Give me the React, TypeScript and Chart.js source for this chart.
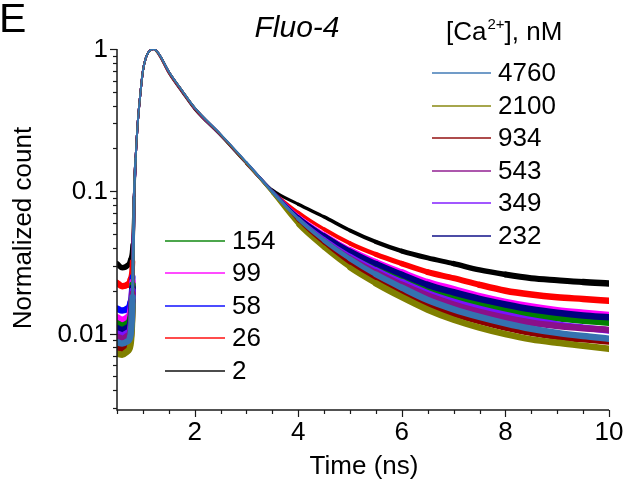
import React, { useEffect, useRef } from "react";
import { Chart, registerables } from "chart.js";
Chart.register(...registerables);

// Time axis (ns)
const times = [0.5, 0.6, 0.7, 0.76, 0.8, 0.83, 0.86, 0.9, 0.95, 1.0, 1.05, 1.1, 1.15, 1.2, 1.3, 1.5, 1.75, 2.0, 2.5, 3.0, 3.5, 4.0, 4.5, 5.0, 5.5, 6.0, 6.5, 7.0, 7.5, 8.0, 8.5, 9.0, 9.5, 10.0];

// Normalized counts per [Ca2+] (nM)
const ca4760 = [0.0087, 0.0085, 0.0088, 0.0097, 0.018, 0.09, 0.17, 0.3, 0.48, 0.7, 0.85, 0.94, 0.985, 1.0, 0.935, 0.695, 0.515, 0.387, 0.252, 0.16, 0.099, 0.064, 0.045, 0.0335, 0.026, 0.021, 0.0172, 0.0148, 0.0131, 0.0118, 0.0108, 0.0101, 0.0096, 0.0092];
const ca2100 = [0.0072, 0.0071, 0.0075, 0.0083, 0.016, 0.09, 0.17, 0.3, 0.48, 0.7, 0.85, 0.94, 0.985, 1.0, 0.933, 0.693, 0.513, 0.385, 0.25, 0.158, 0.097, 0.058, 0.04, 0.029, 0.0225, 0.018, 0.0147, 0.0125, 0.011, 0.0099, 0.0091, 0.0086, 0.0082, 0.0078];
const ca934 = [0.008, 0.0078, 0.0081, 0.009, 0.017, 0.09, 0.17, 0.3, 0.48, 0.7, 0.85, 0.94, 0.985, 1.0, 0.932, 0.692, 0.512, 0.385, 0.25, 0.158, 0.098, 0.061, 0.043, 0.031, 0.0245, 0.0195, 0.016, 0.0138, 0.0122, 0.011, 0.0101, 0.0095, 0.0091, 0.0088];
const ca543 = [0.0095, 0.0092, 0.0096, 0.0105, 0.019, 0.09, 0.17, 0.3, 0.48, 0.7, 0.85, 0.94, 0.985, 1.0, 0.932, 0.692, 0.512, 0.385, 0.25, 0.158, 0.099, 0.063, 0.045, 0.034, 0.027, 0.022, 0.0185, 0.016, 0.0142, 0.0129, 0.0119, 0.0113, 0.0109, 0.0106];
const ca349 = [0.01, 0.0097, 0.0101, 0.011, 0.02, 0.09, 0.17, 0.3, 0.48, 0.7, 0.85, 0.94, 0.985, 1.0, 0.932, 0.692, 0.512, 0.385, 0.25, 0.158, 0.099, 0.064, 0.046, 0.035, 0.028, 0.023, 0.0192, 0.0167, 0.0149, 0.0135, 0.0124, 0.0116, 0.011, 0.0105];
const ca232 = [0.0109, 0.0106, 0.011, 0.012, 0.021, 0.09, 0.17, 0.3, 0.48, 0.7, 0.85, 0.94, 0.985, 1.0, 0.932, 0.692, 0.512, 0.385, 0.25, 0.158, 0.1, 0.066, 0.049, 0.038, 0.031, 0.026, 0.022, 0.0195, 0.0175, 0.016, 0.0148, 0.014, 0.0134, 0.013];
const ca154 = [0.0118, 0.0114, 0.0118, 0.013, 0.022, 0.09, 0.17, 0.3, 0.48, 0.7, 0.85, 0.94, 0.985, 1.0, 0.932, 0.692, 0.512, 0.385, 0.25, 0.158, 0.1, 0.065, 0.047, 0.036, 0.029, 0.024, 0.0205, 0.018, 0.016, 0.0146, 0.0135, 0.0128, 0.0123, 0.0119];
const ca99 = [0.013, 0.0125, 0.013, 0.0145, 0.023, 0.09, 0.17, 0.3, 0.48, 0.7, 0.85, 0.94, 0.985, 1.0, 0.93, 0.69, 0.51, 0.383, 0.249, 0.158, 0.1, 0.067, 0.05, 0.039, 0.032, 0.027, 0.023, 0.0205, 0.0183, 0.0167, 0.0155, 0.0146, 0.014, 0.0135];
const ca58 = [0.015, 0.0145, 0.015, 0.0165, 0.025, 0.09, 0.17, 0.3, 0.48, 0.7, 0.85, 0.94, 0.985, 1.0, 0.93, 0.69, 0.51, 0.383, 0.249, 0.158, 0.1, 0.066, 0.048, 0.037, 0.03, 0.025, 0.021, 0.0185, 0.0166, 0.0152, 0.0141, 0.0134, 0.0129, 0.0125];
const ca26 = [0.0227, 0.0215, 0.022, 0.024, 0.032, 0.09, 0.17, 0.3, 0.48, 0.7, 0.85, 0.94, 0.985, 1.0, 0.925, 0.68, 0.505, 0.38, 0.248, 0.157, 0.1, 0.071, 0.054, 0.043, 0.036, 0.031, 0.027, 0.0245, 0.022, 0.02, 0.0188, 0.018, 0.0175, 0.017];
const ca2 = [0.031, 0.029, 0.03, 0.033, 0.042, 0.09, 0.17, 0.3, 0.48, 0.7, 0.85, 0.94, 0.985, 1.0, 0.92, 0.675, 0.5, 0.375, 0.245, 0.156, 0.102, 0.081, 0.066, 0.053, 0.044, 0.038, 0.034, 0.031, 0.028, 0.026, 0.0245, 0.0237, 0.023, 0.0225];

const seriesLabels = ["4760", "2100", "934", "543", "349", "232", "154", "99", "58", "26", "2"];
const seriesValues = [ca4760, ca2100, ca934, ca543, ca349, ca232, ca154, ca99, ca58, ca26, ca2];
const seriesColors = ["#3572b0", "#808000", "#8b0000", "#8a108a", "#7a10ff", "#000080", "#008000", "#ff00ff", "#0000ff", "#ff0000", "#000000"];

const xMajorTicks = [2, 4, 6, 8, 10];
const yMajorTicks = [1, 0.1, 0.01];
const yTickLabels = ["1", "0.1", "0.01"];

const FONT = "'Liberation Sans', Arial, sans-serif";

const decorPlugin = {
  id: "decor",
  afterDraw(chart: any) {
    const ctx = chart.ctx as CanvasRenderingContext2D;
    const xs = chart.scales.x;
    const ys = chart.scales.y;
    const area = chart.chartArea;
    ctx.save();
    ctx.strokeStyle = "#1a1a1a";
    ctx.fillStyle = "#000";
    ctx.lineWidth = 1.5;
    // axes lines
    ctx.beginPath();
    ctx.moveTo(area.left, area.top);
    ctx.lineTo(area.left, area.bottom);
    ctx.lineTo(area.right, area.bottom);
    ctx.stroke();
    // y ticks
    ctx.lineWidth = 1.2;
    for (let e = -3; e <= 0; e++) {
      for (let m = 1; m <= 9; m++) {
        const v = m * Math.pow(10, e);
        if (v < ys.min * 0.999 || v > ys.max * 1.001) continue;
        const py = Math.round(ys.getPixelForValue(v)) + 0.5;
        const len = m === 1 ? 7 : 4;
        ctx.beginPath();
        ctx.moveTo(area.left - len, py);
        ctx.lineTo(area.left, py);
        ctx.stroke();
      }
    }
    // x ticks
    for (let t = 0.5; t <= 10.001; t += 0.5) {
      const px = Math.round(xs.getPixelForValue(t)) + 0.5;
      const major = Math.abs(t / 2 - Math.round(t / 2)) < 1e-6;
      const len = major ? 7 : 4;
      ctx.beginPath();
      ctx.moveTo(px, area.bottom);
      ctx.lineTo(px, area.bottom + len);
      ctx.stroke();
    }
    // tick labels
    ctx.font = `26px ${FONT}`;
    ctx.textAlign = "right";
    ctx.textBaseline = "middle";
    yMajorTicks.forEach((v, i) => {
      ctx.fillText(yTickLabels[i], area.left - 9, ys.getPixelForValue(v) + 1);
    });
    ctx.textAlign = "center";
    ctx.textBaseline = "top";
    xMajorTicks.forEach((v) => {
      ctx.fillText(String(v), xs.getPixelForValue(v), area.bottom + 10);
    });
    // axis titles
    ctx.font = `26px ${FONT}`;
    ctx.textBaseline = "alphabetic";
    ctx.fillText("Time (ns)", 364, 474);
    ctx.save();
    ctx.translate(31, 228);
    ctx.rotate(-Math.PI / 2);
    ctx.textAlign = "center";
    ctx.fillText("Normalized count", 0, 0);
    ctx.restore();
    // panel letter and title
    ctx.textAlign = "left";
    ctx.font = `41px ${FONT}`;
    ctx.fillText("E", -1, 32);
    ctx.font = `italic 30px ${FONT}`;
    ctx.textAlign = "center";
    ctx.fillText("Fluo-4", 297, 37);
    // legend title
    ctx.textAlign = "left";
    ctx.font = `26px ${FONT}`;
    let x = 446;
    const by = 40;
    ctx.fillText("[Ca", x, by);
    x += ctx.measureText("[Ca").width;
    ctx.font = `15px ${FONT}`;
    ctx.fillText("2+", x + 1, by - 11);
    x += ctx.measureText("2+").width + 1;
    ctx.font = `26px ${FONT}`;
    ctx.fillText("], nM", x, by);
    // legends
    const drawItem = (i: number, lx0: number, lx1: number, ly: number) => {
      ctx.save();
      ctx.globalAlpha = 0.7;
      ctx.strokeStyle = seriesColors[i];
      ctx.lineWidth = 1.8;
      ctx.beginPath();
      ctx.moveTo(lx0, ly);
      ctx.lineTo(lx1, ly);
      ctx.stroke();
      ctx.restore();
      ctx.fillStyle = "#000";
      ctx.font = `26px ${FONT}`;
      ctx.textAlign = "left";
      ctx.textBaseline = "middle";
      ctx.fillText(seriesLabels[i], lx1 + 7, ly + 1);
    };
    const topRows = [73, 106, 138, 171, 203, 236];
    for (let i = 0; i < 6; i++) drawItem(i, 432, 491, topRows[i]);
    const botRows = [241, 273, 306, 338, 371];
    for (let i = 0; i < 5; i++) drawItem(6 + i, 165, 225, botRows[i]);
    ctx.restore();
  },
};

export default function App() {
  const ref = useRef<HTMLCanvasElement | null>(null);
  useEffect(() => {
    if (!ref.current) return;
    const datasets = seriesLabels.map((lab, i) => ({
      label: lab,
      data: times.map((t, k) => ({ x: t, y: seriesValues[i][k] })),
      borderColor: seriesColors[i],
      backgroundColor: seriesColors[i],
      borderWidth: 2,
      pointRadius: 0,
      fill: false,
      cubicInterpolationMode: "monotone" as const,
      borderCapStyle: "round" as const,
      borderJoinStyle: "round" as const,
      segment: {
        borderWidth: (c: any) => {
          const v = Math.max(c.p0.parsed.y, c.p1.parsed.y);
          const w = Math.round((2 * 0.95) / Math.sqrt(v)) / 2;
          return Math.min(6.5, Math.max(2, w));
        },
      },
    }));
    const chart = new Chart(ref.current, {
      type: "line",
      data: { datasets },
      options: {
        responsive: false,
        animation: false,
        devicePixelRatio: 1,
        layout: { padding: { left: 117, right: 16, top: 49, bottom: 75 } },
        plugins: { legend: { display: false }, title: { display: false }, tooltip: { enabled: false } },
        scales: {
          x: { type: "linear", min: 0.5, max: 10, display: false },
          y: { type: "logarithmic", min: 0.0029, max: 1, display: false },
        },
      },
      plugins: [decorPlugin],
    });
    return () => chart.destroy();
  }, []);
  return (
    <div style={{ position: "fixed", left: 0, top: 0, width: 625, height: 485, background: "#fff" }}>
      <canvas ref={ref} width={625} height={485} style={{ display: "block" }} />
    </div>
  );
}
